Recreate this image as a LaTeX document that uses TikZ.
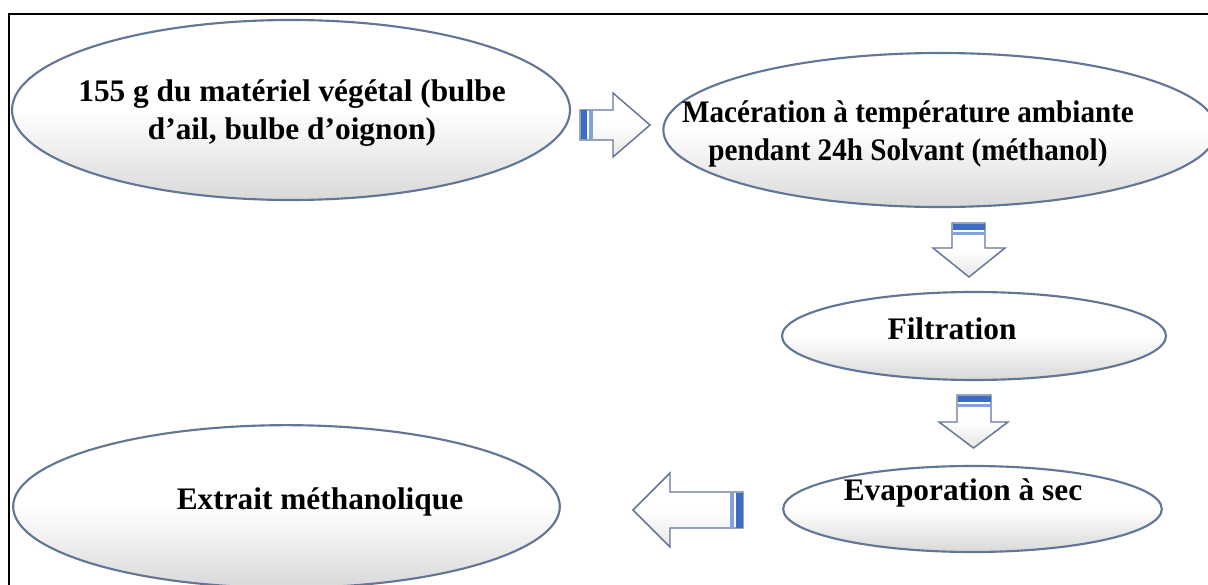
\documentclass[tikz,border=0pt]{standalone}
\usepackage{graphicx}
\usepackage{fontspec}
\setmainfont{Liberation Serif}
\usetikzlibrary{shapes.geometric}
\definecolor{edge}{RGB}{100,118,150}
\definecolor{barblue}{RGB}{62,108,196}
\definecolor{barlight}{RGB}{130,162,222}
\tikzset{
  ell/.style={ellipse, draw=edge, line width=1.6pt, top color=white, bottom color=black!15, middle color=white, inner sep=0pt},
  lbl/.style={font=\bfseries\fontsize{23.5}{28.5}\selectfont, align=center, inner sep=0pt, text=black},
  barrow/.style={draw=edge, line width=1.1pt, line join=miter, top color=white, bottom color=black!10, middle color=white},
  bardark/.style={fill=barblue, draw=none},
  barlite/.style={fill=barlight, draw=none},
}
\begin{document}
\begin{tikzpicture}[x=0.75pt,y=-0.75pt]
\useasboundingbox (0,0) rectangle (1208,585);
\fill[white] (0,0) rectangle (1208,585);
\draw[line width=1.5pt] (9,585) -- (9,14) -- (1208,14);

% ellipses
\node[ell, minimum width=418.5pt, minimum height=135pt] (e1) at (291,110) {};
\node[ell, minimum width=415pt, minimum height=115.5pt] (e2) at (940,130) {};
\node[ell, minimum width=288pt, minimum height=66pt] (e3) at (974,336) {};
\node[ell, minimum width=284pt, minimum height=64.5pt] (e4) at (972.5,509) {};
\node[ell, minimum width=410pt, minimum height=122pt] (e5) at (286.5,506.5) {};

% texts
\node[lbl] (t1) at (292,113) {155 g du matériel végétal (bulbe\\d’ail, bulbe d’oignon)};
\node[lbl] (t2) at (908,134) {\scalebox{0.93}[1]{Macération à température ambiante}\\\scalebox{0.93}[1]{pendant 24h Solvant (méthanol)}};
\node[lbl] (t3) at (952,329) {Filtration};
\node[lbl] (t4) at (963,492.5) {Evaporation à sec};
\node[lbl] (t5) at (320,501.5) {Extrait méthanolique};

% block arrows
% right arrow e1 -> e2
\path[barrow] (580,110) -- (613,110) -- (613,93) -- (650,125) -- (613,157) -- (613,140) -- (580,140) -- cycle;
\fill[bardark] (580.5,110.5) rectangle (587,139.5);
\fill[barlite] (589,110.5) rectangle (593,139.5);
% down arrow e2 -> e3
\path[barrow] (952,223) -- (985,223) -- (985,248) -- (1005,248) -- (969,277) -- (933,248) -- (952,248) -- cycle;
\fill[bardark] (952.5,223.5) rectangle (984.5,230);
\fill[barlite] (952.5,232) rectangle (984.5,235);
% down arrow e3 -> e4
\path[barrow] (957,395) -- (991,395) -- (991,422) -- (1008,422) -- (973.5,448) -- (939,422) -- (957,422) -- cycle;
\fill[bardark] (957.5,395.5) rectangle (990.5,402);
\fill[barlite] (957.5,404) rectangle (990.5,407);
% left arrow e4 -> e5
\path[barrow] (743,492) -- (670,492) -- (670,473) -- (633,510) -- (670,547) -- (670,528) -- (743,528) -- cycle;
\fill[barlite] (730,492.5) rectangle (734,527.5);
\fill[bardark] (736,492.5) rectangle (742.5,527.5);
\end{tikzpicture}
\end{document}
